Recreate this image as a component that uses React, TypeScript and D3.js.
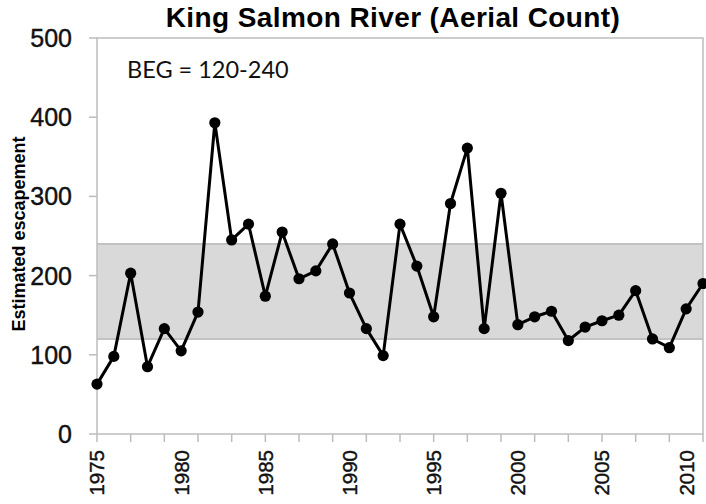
import React from "react";
import * as d3 from "d3";

const years: number[] = [
  1975, 1976, 1977, 1978, 1979, 1980, 1981, 1982, 1983, 1984, 1985, 1986,
  1987, 1988, 1989, 1990, 1991, 1992, 1993, 1994, 1995, 1996, 1997, 1998,
  1999, 2000, 2001, 2002, 2003, 2004, 2005, 2006, 2007, 2008, 2009, 2010, 2011,
];
const escapement: number[] = [
  63, 98, 203, 85, 133, 105, 154, 393, 245, 265, 174, 255,
  196, 206, 240, 178, 133, 99, 265, 212, 148, 291, 361, 133,
  304, 138, 148, 155, 118, 135, 143, 150, 181, 120, 109, 158, 190,
];
const yTicks: number[] = [0, 100, 200, 300, 400, 500];
const xMinorTicks: number[] = d3.range(1975, 2012, 2);
const xLabels: number[] = [1975, 1980, 1985, 1990, 1995, 2000, 2005, 2010];
const begRange: [number, number] = [120, 240];
const title = "King Salmon River (Aerial Count)";
const yTitle = "Estimated escapement";
const begText = "BEG = 120-240";

export default function App() {
  const W = 706, H = 504;
  const left = 97, right = 703, top = 38, bottom = 434;
  const x = d3.scaleLinear().domain([1975, 2011]).range([left, right]);
  const y = d3.scaleLinear().domain([0, 500]).range([bottom, top]);
  const line = d3
    .line<number>()
    .x((_, i) => x(years[i]))
    .y((d) => y(d));
  const axisColor = "#bdbdbd";
  return (
    <svg
      width={W}
      height={H}
      style={{ position: "absolute", left: 0, top: 0, background: "#fff" }}
      fontFamily="'Liberation Sans', Arial, sans-serif"
    >
      {/* BEG band */}
      <rect
        x={left}
        y={y(begRange[1])}
        width={right - left}
        height={y(begRange[0]) - y(begRange[1])}
        fill="#d9d9d9"
      />
      <line x1={left} x2={right} y1={y(begRange[1])} y2={y(begRange[1])} stroke="#c2c2c2" strokeWidth={2} />
      <line x1={left} x2={right} y1={y(begRange[0])} y2={y(begRange[0])} stroke="#c2c2c2" strokeWidth={2} />
      {/* plot frame */}
      <rect x={left} y={top} width={right - left} height={bottom - top} fill="none" stroke={axisColor} strokeWidth={1.5} />
      {/* y ticks */}
      {yTicks.map((t) => (
        <g key={"y" + t}>
          <line x1={left - 8} x2={left} y1={y(t)} y2={y(t)} stroke={axisColor} strokeWidth={1.5} />
          <text x={72} y={y(t)} dy="0.36em" textAnchor="end" fontSize={25} fill="#111" stroke="#111" strokeWidth={0.4}>
            {t}
          </text>
        </g>
      ))}
      {/* x ticks */}
      {xMinorTicks.map((t) => (
        <line key={"x" + t} x1={x(t)} x2={x(t)} y1={bottom} y2={bottom + 8} stroke={axisColor} strokeWidth={1.5} />
      ))}
      {xLabels.map((t) => (
        <text
          key={"xl" + t}
          transform={`translate(${x(t)},${450}) rotate(-90)`}
          textAnchor="end"
          dy="0.36em"
          fontSize={20.5}
          fill="#111"
          stroke="#111"
          strokeWidth={0.4}
        >
          {t}
        </text>
      ))}
      {/* series */}
      <path d={line(escapement) || ""} fill="none" stroke="#000" strokeWidth={3} strokeLinejoin="round" />
      {escapement.map((v, i) => (
        <circle key={"p" + i} cx={x(years[i])} cy={y(v)} r={5.6} fill="#000" />
      ))}
      {/* texts */}
      <text x={393} y={27} textAnchor="middle" fontSize={28} fontWeight="bold" fill="#000" letterSpacing={0.4}>
        {title}
      </text>
      <text
        transform={`translate(25,${234}) rotate(-90)`}
        textAnchor="middle"
        fontSize={18}
        fontWeight="bold"
        fill="#000"
      >
        {yTitle}
      </text>
      <text x={127} y={78} fontFamily="Lato, 'Open Sans', sans-serif" fontSize={23.5} fill="#111">
        {begText}
      </text>
    </svg>
  );
}
